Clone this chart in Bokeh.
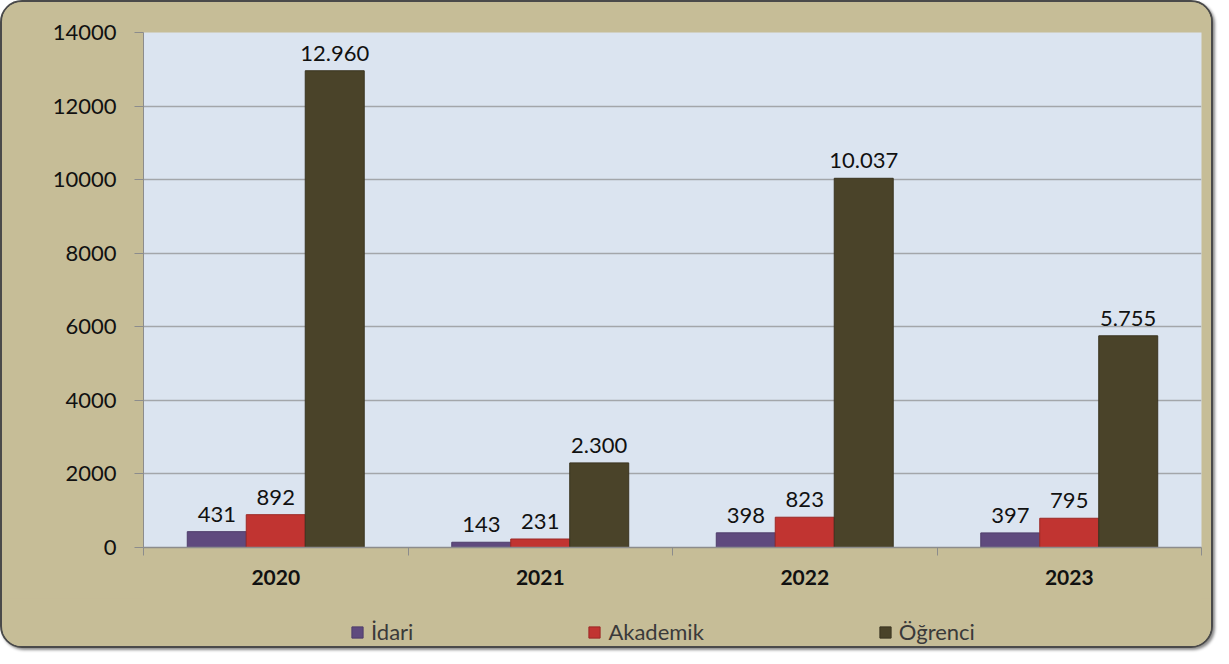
from bokeh.plotting import figure
from bokeh.layouts import column
from bokeh.models import (ColumnDataSource, Range1d, FixedTicker, Legend, LegendItem,
                          LabelSet)
from bokeh.core.properties import value
from bokeh.embed import file_html
from bokeh.resources import INLINE

years = ["2020", "2021", "2022", "2023"]
series_names = ["İdari", "Akademik", "Öğrenci"]
idari = [431, 143, 398, 397]
akademik = [892, 231, 823, 795]
ogrenci = [12960, 2300, 10037, 5755]
y_ticks = [0, 2000, 4000, 6000, 8000, 10000, 12000, 14000]

series_values = [idari, akademik, ogrenci]
colors = ["#5f4a7e", "#c13431", "#4a4329"]
edge_colors = ["#4f3d6b", "#9c2826", "#3a3420"]

FONT = "Lato"
TAN = "#c6bd97"
BAR_W = 0.223
offsets = [-BAR_W, 0.0, BAR_W]

W = 1209
H_MAIN, H_LEG = 596, 48
FRAME_LEFT = 141

p = figure(width=W, height=H_MAIN, output_backend="svg", toolbar_location=None,
           x_range=Range1d(0, len(years)), y_range=Range1d(0, y_ticks[-1]),
           min_border_left=FRAME_LEFT, min_border_right=10, min_border_top=30,
           min_border_bottom=51)
p.background_fill_color = "#dbe4f0"
p.border_fill_color = TAN
p.outline_line_color = None

for name, vals, col, ec, off in zip(series_names, series_values, colors, edge_colors, offsets):
    src = ColumnDataSource(dict(
        x=[i + 0.5 + off for i in range(len(years))],
        top=vals,
        label=[f"{v:,}".replace(",", ".") for v in vals],
    ))
    p.vbar(x="x", top="top", width=BAR_W, bottom=0, source=src,
           fill_color=col, line_color=ec, line_width=1)
    p.add_layout(LabelSet(x="x", y="top", text="label", source=src,
                          text_align="center", text_baseline="alphabetic",
                          y_offset=10, text_font=value(FONT),
                          text_font_size=value("22px"), text_color="#111111"))

# grid
p.xgrid.visible = False
p.ygrid.ticker = FixedTicker(ticks=y_ticks)
p.ygrid.grid_line_color = "#a3a6aa"
p.ygrid.grid_line_width = 1.6

# y axis
p.yaxis.ticker = FixedTicker(ticks=y_ticks)
p.yaxis.axis_line_color = "#8c8c8c"
p.yaxis.major_tick_line_color = "#8c8c8c"
p.yaxis.major_tick_out = 9
p.yaxis.major_tick_in = 0
p.yaxis.minor_tick_line_color = None
p.yaxis.major_label_standoff = 18
p.yaxis.major_label_text_font = FONT
p.yaxis.major_label_text_font_size = "22px"
p.yaxis.major_label_text_color = "#111111"

# x axis: labels at centres, ticks at category boundaries
p.xaxis.ticker = FixedTicker(ticks=[i + 0.5 for i in range(len(years))],
                             minor_ticks=list(range(len(years) + 1)))
p.xaxis.major_label_overrides = {i + 0.5: y for i, y in enumerate(years)}
p.xaxis.axis_line_color = "#8c8c8c"
p.xaxis.axis_line_width = 1.5
p.xaxis.major_tick_line_color = None
p.xaxis.minor_tick_line_color = "#8c8c8c"
p.xaxis.minor_tick_out = 8
p.xaxis.minor_tick_in = 0
p.xaxis.major_label_standoff = 14
p.xaxis.major_label_text_font = FONT
p.xaxis.major_label_text_font_style = "bold"
p.xaxis.major_label_text_font_size = "21px"
p.xaxis.major_label_text_color = "#111111"

# legend strip (its frame is aligned with the main frame by the column layout)
p2 = figure(width=W, height=H_LEG, output_backend="svg", toolbar_location=None,
            x_range=Range1d(0, 1), y_range=Range1d(0, 1),
            min_border_left=0, min_border_right=0, min_border_top=0,
            min_border_bottom=0)
p2.axis.visible = False
p2.grid.visible = False
p2.background_fill_color = TAN
p2.border_fill_color = TAN
p2.outline_line_color = None

items = []
for name, col, ec in zip(series_names, colors, edge_colors):
    # legend proxy only (kept outside the visible range)
    r = p2.vbar(x=[-1], top=[0], width=0.1, fill_color=col, line_color=ec)
    items.append(LegendItem(label=name, renderers=[r]))

legend = Legend(items=items, orientation="horizontal", location=(348 - FRAME_LEFT, 1),
                spacing=174, padding=0, margin=0,
                glyph_width=14, glyph_height=14, label_standoff=7,
                label_height=20,
                label_text_font=FONT, label_text_font_size="22px",
                label_text_color="#3a3a3a",
                background_fill_alpha=0, border_line_color=None)
p2.add_layout(legend, "center")

layout = column(p, p2, spacing=0, width=W + 4, height=H_MAIN + H_LEG + 4)
layout.styles = {"border": "2px solid #4a4a4a", "border-radius": "22px",
                 "overflow": "hidden", "box-shadow": "2px 2px 3px #8a8a8a",
                 "background-color": TAN}

open("out.html", "w").write(file_html(layout, INLINE))
